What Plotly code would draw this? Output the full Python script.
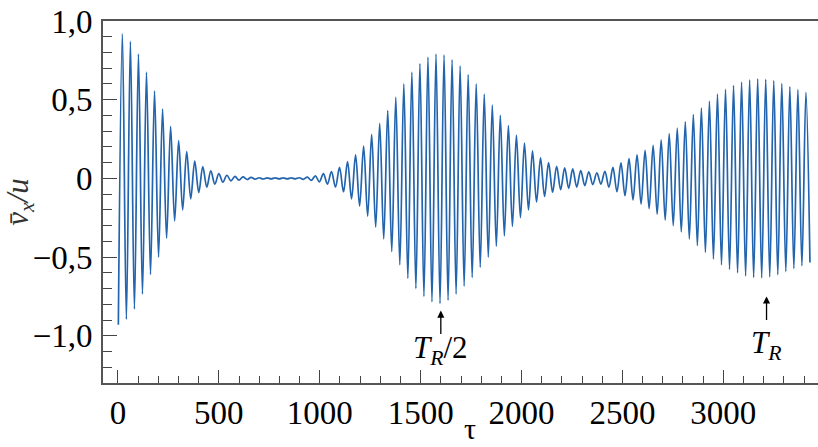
import plotly.graph_objects as go

# --- data -------------------------------------------------------------
# oscillation extrema of v_x/u: first extremum (a trough) at tau_first,
# successive extrema every half_period (alternating trough / peak)
tau_first = 2.0
half_period = 19.925

# minima (magnitudes), k = 0..86
trough_values = [
    0.93, 0.895, 0.83, 0.735, 0.61, 0.50, 0.38, 0.27, 0.20, 0.13,
    0.09, 0.055, 0.037, 0.024, 0.016, 0.011, 0.007, 0.005, 0.004, 0.003,
    0.003, 0.003, 0.003, 0.006, 0.012, 0.022, 0.036, 0.055, 0.085, 0.13,
    0.175, 0.24, 0.31, 0.385, 0.465, 0.55, 0.635, 0.70, 0.75, 0.785,
    0.795, 0.775, 0.735, 0.685, 0.63, 0.565, 0.50, 0.43, 0.365, 0.305,
    0.25, 0.20, 0.15, 0.115, 0.088, 0.072, 0.063, 0.055, 0.046, 0.039,
    0.036, 0.056, 0.085, 0.11, 0.137, 0.163, 0.193, 0.227, 0.265, 0.30,
    0.34, 0.385, 0.427, 0.47, 0.512, 0.55, 0.578, 0.60, 0.62, 0.63,
    0.632, 0.626, 0.612, 0.592, 0.573, 0.555, 0.535,
]
# maxima, k = 0..85
peak_values = [
    0.92, 0.87, 0.79, 0.675, 0.555, 0.44, 0.33, 0.24, 0.17, 0.11,
    0.075, 0.048, 0.03, 0.02, 0.013, 0.009, 0.006, 0.004, 0.003, 0.003,
    0.003, 0.003, 0.004, 0.008, 0.016, 0.03, 0.043, 0.07, 0.107, 0.15,
    0.205, 0.28, 0.35, 0.43, 0.515, 0.60, 0.675, 0.73, 0.77, 0.79,
    0.785, 0.755, 0.715, 0.66, 0.60, 0.535, 0.465, 0.40, 0.335, 0.275,
    0.225, 0.175, 0.13, 0.10, 0.077, 0.067, 0.06, 0.05, 0.042, 0.036,
    0.045, 0.07, 0.098, 0.125, 0.15, 0.178, 0.21, 0.245, 0.285, 0.32,
    0.36, 0.405, 0.447, 0.49, 0.535, 0.565, 0.59, 0.612, 0.626, 0.633,
    0.63, 0.621, 0.602, 0.582, 0.564, 0.546,
]

x_tickvals = [0, 500, 1000, 1500, 2000, 2500, 3000]
x_ticktext = ["0", "500", "1000", "1500", "2000", "2500", "3000"]
y_tickvals = [-1.0, -0.5, 0.0, 0.5, 1.0]
y_ticktext = ["\u22121,0", "\u22120,5", "0", "0,5", "1,0"]

marks = [(1600, "<i>T<sub>R</sub></i>/2"), (3214, "<i>T<sub>R</sub></i>")]

# --- build series -------------------------------------------------------
tau, vx = [], []
for i in range(len(trough_values) + len(peak_values)):
    k = i // 2
    tau.append(tau_first + i * half_period)
    vx.append(-trough_values[k] if i % 2 == 0 else peak_values[k])

FONT = "Liberation Serif"
TICKFONT = dict(family=FONT, size=33, color="black")
fig = go.Figure()
fig.add_trace(go.Scatter(
    x=tau, y=vx, mode="lines",
    line=dict(color="#2264ad", width=1.7, shape="spline", smoothing=1),
    hoverinfo="skip", showlegend=False,
))

fig.update_layout(
    width=818, height=447,
    margin=dict(l=103, r=0, t=21, b=64),
    paper_bgcolor="white", plot_bgcolor="white",
    font=dict(family=FONT, size=33, color="black"),
    xaxis=dict(
        range=[-74, 3469], tickmode="array", automargin=False,
        tickvals=x_tickvals, ticktext=x_ticktext, tickfont=TICKFONT,
        showgrid=False, zeroline=False, showline=True, mirror=True,
        linecolor="#555555", linewidth=1.6,
        ticks="inside", ticklen=13, tickcolor="#444444", tickwidth=1.4,
        minor=dict(dtick=100, tick0=0, ticks="inside", ticklen=7,
                   tickcolor="#444444", tickwidth=1.4, showgrid=False),
    ),
    yaxis=dict(
        range=[-1.3, 1.0], tickmode="array", automargin=False,
        tickvals=y_tickvals, ticktext=y_ticktext, tickfont=TICKFONT,
        showgrid=False, zeroline=False, showline=True,
        linecolor="#555555", linewidth=1.6,
        ticks="inside", ticklen=14, tickcolor="#444444", tickwidth=1.4,
        ticklabelstandoff=2,
        minor=dict(dtick=0.1, tick0=0, ticks="inside", ticklen=9,
                   tickcolor="#444444", tickwidth=1.4, showgrid=False),
        title=dict(text="<i>v\u0304<sub>x</sub>/u</i>",
                   font=dict(family=FONT, size=31, color="#333333"), standoff=4),
    ),
)

# x-axis title (tau)
fig.add_annotation(x=0.513, y=-0.174, xref="paper", yref="paper",
                   text="\u03c4", showarrow=False, yanchor="bottom",
                   borderpad=0, font=dict(family=FONT, size=30, color="black"))

for xv, label in marks:
    fig.add_annotation(x=xv, y=-0.84 if xv < 2000 else -0.75, xref="x", yref="y",
                       ax=0, ay=25, text="", showarrow=True,
                       arrowhead=2, arrowsize=1.1, arrowwidth=1.3,
                       arrowcolor="black")
    fig.add_annotation(x=xv, y=-1.09 if xv < 2000 else -1.06, xref="x", yref="y",
                       text=label, showarrow=False,
                       font=dict(family=FONT, size=31, color="black"))

fig.write_html("out.html")
